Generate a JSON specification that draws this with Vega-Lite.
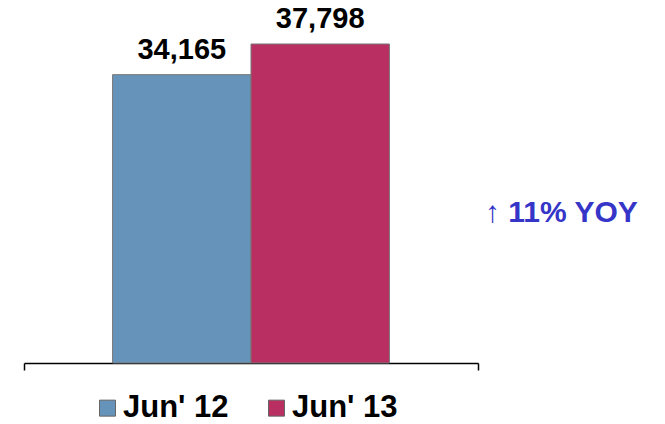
{
  "$schema": "https://vega.github.io/schema/vega-lite/v6.json",
  "width": 454,
  "height": 337.6,
  "autosize": "none",
  "padding": {"left": 24, "top": 25.4, "right": 187, "bottom": 61},
  "background": "white",
  "config": {"view": {"stroke": null}, "font": "Liberation Sans"},
  "title": {
    "text": "↑ 11% YOY",
    "orient": "top",
    "anchor": "end",
    "frame": "group",
    "align": "left",
    "baseline": "middle",
    "offset": 0,
    "dx": 7,
    "dy": 238,
    "fontSize": 30,
    "fontWeight": "bold",
    "color": "#3535C8",
    "font": "Liberation Sans"
  },
  "data": {
    "values": [
      {"cat": "A", "series": "Jun' 12", "value": 34165},
      {"cat": "A", "series": "Jun' 13", "value": 37798}
    ]
  },
  "encoding": {
    "x": {
      "field": "cat",
      "type": "nominal",
      "scale": {"paddingInner": 0, "paddingOuter": 0},
      "axis": {
        "labels": false,
        "title": null,
        "bandPosition": 1,
        "tickExtra": true,
        "tickSize": 7,
        "tickColor": "#000",
        "domainColor": "#000",
        "tickWidth": 1.5,
        "domainWidth": 1.5,
        "grid": false
      }
    },
    "xOffset": {
      "field": "series",
      "type": "nominal",
      "scale": {"paddingInner": 0, "paddingOuter": 0.64}
    },
    "y": {
      "field": "value",
      "type": "quantitative",
      "scale": {"domain": [0, 40000]},
      "axis": null
    }
  },
  "layer": [
    {
      "mark": {"type": "bar", "stroke": "#777777", "strokeWidth": 1},
      "encoding": {
        "color": {
          "field": "series",
          "type": "nominal",
          "scale": {"range": ["#6693BA", "#BA2F62"]},
          "legend": {
            "orient": "none",
            "legendX": 68,
            "legendY": 367,
            "direction": "horizontal",
            "title": null,
            "symbolType": "square",
            "symbolSize": 256,
            "symbolStrokeColor": "#666666",
            "symbolStrokeWidth": 1,
            "symbolOpacity": 1,
            "labelFontSize": 31,
            "labelFontWeight": "bold",
            "labelColor": "#000000",
            "labelOffset": 0,
            "labelLimit": 400,
            "columnPadding": 32,
            "padding": 0
          }
        }
      }
    },
    {
      "mark": {
        "type": "text",
        "baseline": "bottom",
        "dy": -10,
        "fontSize": 29,
        "fontWeight": "bold",
        "color": "#000000"
      },
      "encoding": {
        "text": {"field": "value", "type": "quantitative", "format": ","}
      }
    }
  ]
}
